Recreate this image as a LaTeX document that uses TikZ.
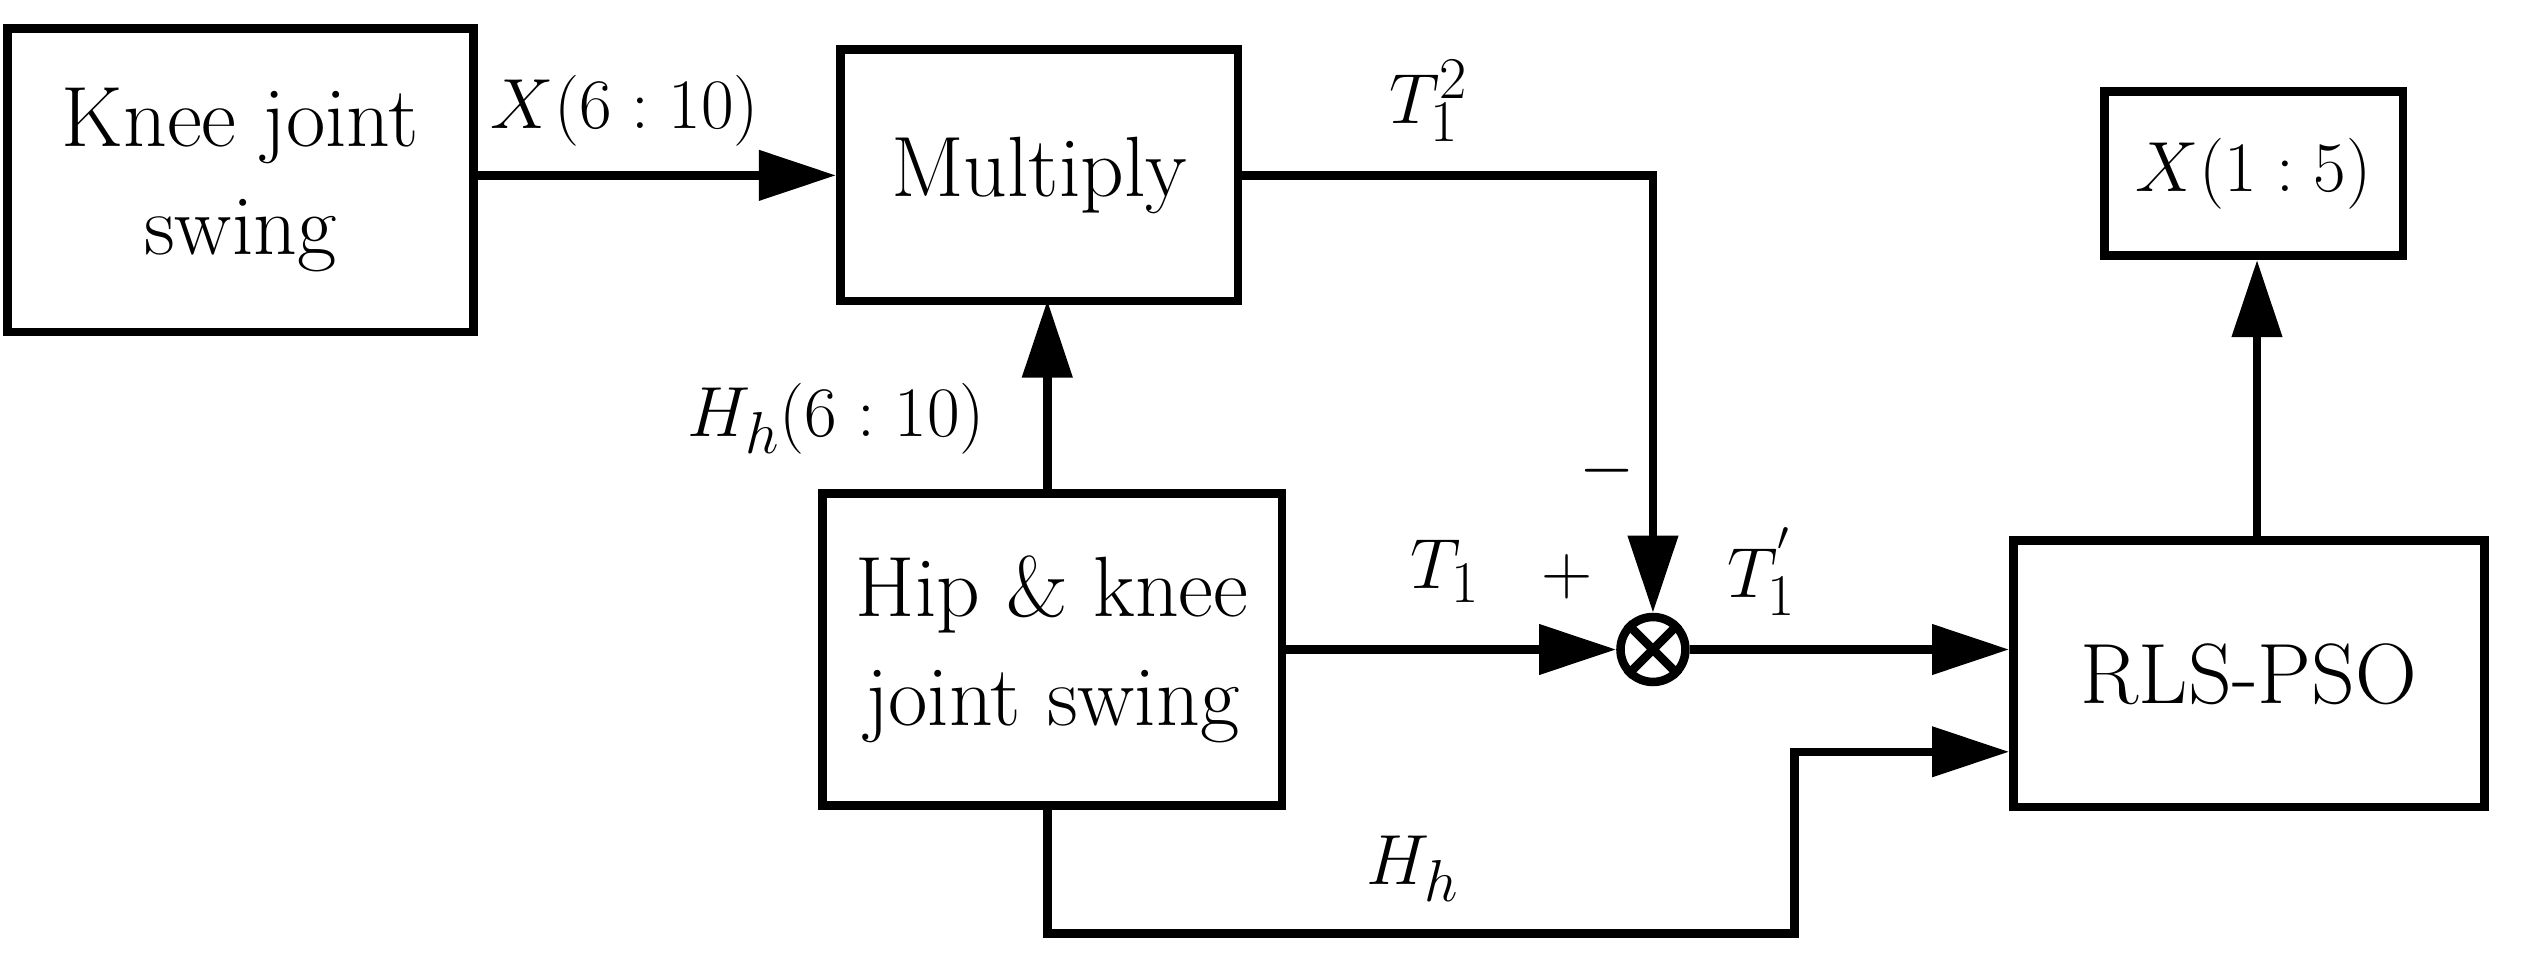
\documentclass[tikz,border=0pt]{standalone}
\usetikzlibrary{arrows.meta}
\begin{document}
\begin{tikzpicture}[x=0.02cm,y=-0.02cm,line width=3pt,
 box/.style={draw,rectangle,align=center,inner sep=0pt,font=\fontsize{30}{38}\selectfont},
 lab/.style={font=\fontsize{29}{34}\selectfont},
 arr/.style={-{Triangle[length=0.95cm,width=0.6cm]}}]
\useasboundingbox (0,0) rectangle (1568,592);
\node[box,minimum width=287*0.02cm,minimum height=187*0.02cm] (knee) at (148,111) {Knee joint\\swing};
\node[box,minimum width=245*0.02cm,minimum height=155*0.02cm] (mul) at (640,108) {Multiply};
\node[box,minimum width=184*0.02cm,minimum height=101*0.02cm] (x15) at (1388,107) {$X(1:5)$};
\node[box,minimum width=283*0.02cm,minimum height=192*0.02cm] (hip) at (648,400) {Hip \& knee\\joint swing};
\node[box,minimum width=290*0.02cm,minimum height=164*0.02cm] (rls) at (1385,415) {RLS-PSO};
\node[draw,circle,minimum size=40*0.02cm,inner sep=0pt] (sum) at (1018,400) {};
\draw (sum.north west) -- (sum.south east) (sum.north east) -- (sum.south west);
\coordinate (c1) at (1018,108);
\coordinate (c2) at (645,575);
\coordinate (c3) at (1105,575);
\coordinate (c4) at (1105,463);
\draw[arr] (knee.east |- mul) -- (mul.west);
\draw[arr] (hip.north -| 645,0) -- (645,185);
\draw[arr] (mul.east) -- (c1) -- (sum.north);
\draw[arr] (hip.east) -- (sum.west);
\draw[arr] (sum.east) -- (rls.west |- sum);
\draw[arr] (c2 |- hip.south) -- (c2) -- (c3) -- (c4) -- (rls.west |- c4);
\draw[arr] (rls.north -| 1390,0) -- (x15.south -| 1390,0);
\node[lab] (l1) at (385,68) {$X(6:10)$};
\node[lab] (l2) at (880,62) {$T_1^2$};
\node[lab] (l3) at (515,258) {$H_h(6:10)$};
\node[lab] (l4) at (990,290) {$-$};
\node[lab] (l5) at (890,352) {$T_1$};
\node[lab] (l6) at (965,355) {$+$};
\node[lab] (l7) at (1085,352) {$T_1^{'}$};
\node[lab] (l8) at (870,535) {$H_h$};
\end{tikzpicture}
\end{document}
